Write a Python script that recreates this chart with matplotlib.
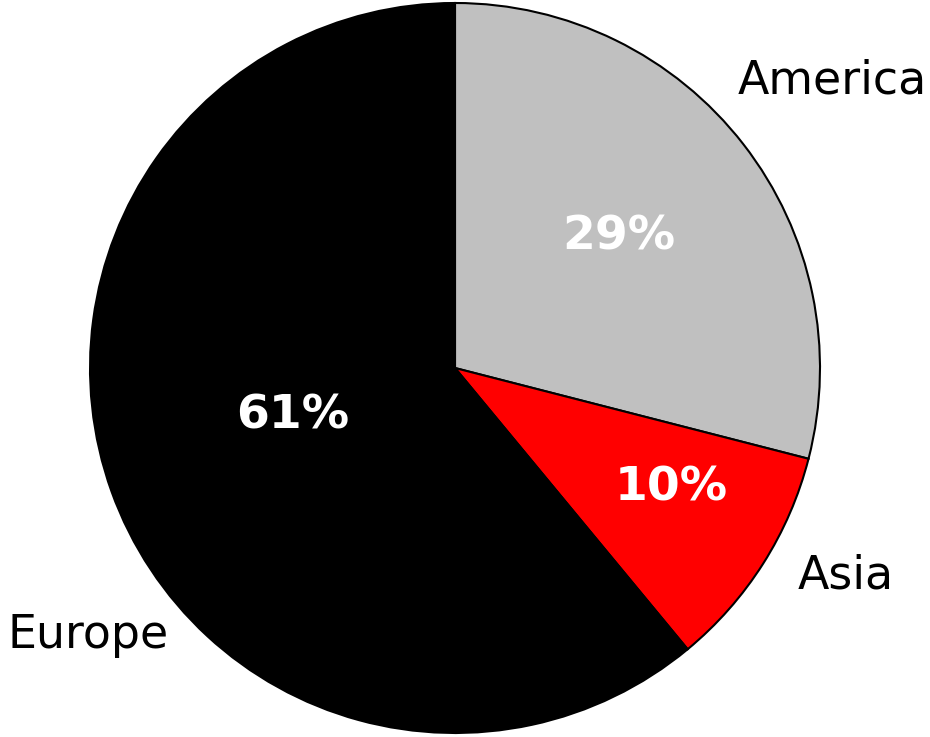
import matplotlib.pyplot as plt

regions = ['America', 'Asia', 'Europe']
shares = [29, 10, 61]
colors = ['#c0c0c0', '#ff0000', '#000000']

# where the texts sit (baseline centre, in pie radii)
label_pos = [(1.034, 0.752), (1.070, -0.604), (-1.004, -0.768)]
pct_pos = [(0.449, 0.325), (0.593, -0.363), (-0.445, -0.166)]

fig = plt.figure(figsize=(9.3, 7.37), dpi=100)
# pie centre ~ (455, 368) px, radius ~ 365 px
ax = fig.add_axes([90 / 930, 4 / 737, 730 / 930, 730 / 737])

wedges, texts, autotexts = ax.pie(
    shares, labels=regions, colors=colors, startangle=90, counterclock=False,
    autopct='%.0f%%',
    wedgeprops=dict(edgecolor='black', linewidth=1.5),
    textprops=dict(fontsize=33, family='DejaVu Sans'))

for t, p in zip(texts, label_pos):
    t.set_position(p)
    t.set_ha('center')
    t.set_va('baseline')

for t, p in zip(autotexts, pct_pos):
    t.set_position(p)
    t.set_ha('center')
    t.set_va('baseline')
    t.set_color('white')
    t.set_fontweight('bold')
    t.set_fontsize(34)

ax.set_xlim(-1, 1)
ax.set_ylim(-1, 1)
ax.set_aspect('equal')
ax.axis('off')

fig.savefig('out.png', dpi=100)
